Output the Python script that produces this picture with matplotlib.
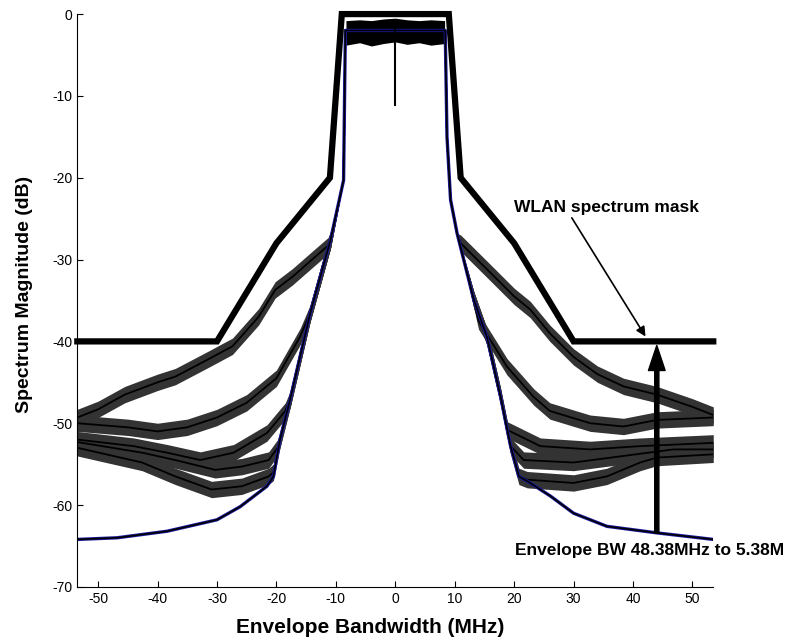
import matplotlib
matplotlib.use("Agg")
import numpy as np
import matplotlib.pyplot as plt

plt.rcParams["font.family"] = ["Liberation Sans", "DejaVu Sans"]
plt.rcParams["axes.unicode_minus"] = False

# WLAN spectrum mask (MHz, dB)
mask_x = [-53.5, -30, -20, -11, -9, 9, 11, 20, 30, 53.5]
mask_y = [-40, -40, -28, -20, 0, 0, -20, -28, -40, -40]

# in-band noise band
inband_x = [-8.3, -6, -4, -2, 0, 2, 4, 6, 8.3]
inband_top = [-0.8, -0.7, -0.8, -0.6, -0.5, -0.7, -0.8, -0.7, -0.8]
inband_bot = [-3.8, -3.5, -3.9, -3.6, -3.4, -3.7, -3.5, -3.8, -3.6]
dip_x = [-0.1, -0.1]
dip_y = [-1.0, -11.1]

# original spectrum (lowest trace)
base_x = [-53.5, -46.8, -38.4, -30, -26.1, -21.6, -20.5, -19.4, -17.7, -14.3,
          -10.9, -8.7, -8.4, 8.4, 8.7, 9.3, 10.4, 13.2, 15.4, 17.7, 19.4,
          20.8, 22.7, 26.1, 30, 35.6, 44, 53.5]
base_y = [-64.2, -64.0, -63.2, -61.8, -60.2, -57.7, -56.5, -52.0, -47.1, -36.5,
          -27.6, -20.3, -2.0, -2.0, -15.0, -22.7, -26.8, -34.9, -39.4, -46.7, -52.8,
          -56.5, -57.3, -58.9, -61.0, -62.6, -63.4, -64.2]

# envelope-tracking traces, widest bandwidth -> narrowest
envA_x = [-53.5, -50, -45.5, -40, -37, -31.5, -27.4, -23, -20.2, -17.3, -14, -11.3,
          -10.9, -8.7, -8.4, 8.4, 8.7, 9.3, 10.4, 11, 16, 20, 22.7, 26, 30, 34,
          38.4, 44, 50, 53.5]
envA_y = [-49.3, -48.3, -46.5, -45.0, -44.3, -42.2, -40.6, -37.0, -33.7, -32.1, -30.0, -28.3,
          -27.6, -20.3, -2.0, -2.0, -15.0, -22.7, -26.8, -28.0, -31.6, -34.5, -36.1, -39.0, -41.9, -44.0,
          -45.5, -46.5, -48.0, -49.0]

envB_x = [-53.5, -45, -40, -35, -30, -25, -20, -16, -14.3, -10.9, -8.7, -8.4,
          8.4, 8.7, 9.3, 10.4, 13.2, 14, 18.8, 23.3, 26, 32.8, 38.4, 44, 53.5]
envB_y = [-50.0, -50.5, -51.0, -50.5, -49.3, -47.5, -44.5, -39.4, -36.5, -27.6, -20.3, -2.0,
          -2.0, -15.0, -22.7, -26.8, -34.9, -37.5, -43.1, -46.8, -48.5, -50.0, -50.4, -49.6, -49.3]

envC_x = [-53.5, -44, -38.4, -32.8, -27.2, -21.6, -18.5, -17.7, -14.3, -10.9, -8.7, -8.4,
          8.4, 8.7, 9.3, 10.4, 13.2, 15.4, 17.7, 18.8, 24.4, 32.8, 41.2, 53.5]
envC_y = [-52.0, -52.8, -53.6, -54.5, -53.6, -51.2, -48.5, -47.1, -36.5, -27.6, -20.3, -2.0,
          -2.0, -15.0, -22.7, -26.8, -34.9, -39.4, -46.7, -50.8, -52.8, -53.2, -52.8, -52.4]

envD_x = [-53.5, -42.6, -37, -30.3, -25.8, -21.3, -19.8, -19.4, -17.7, -14.3, -10.9, -8.7, -8.4,
          8.4, 8.7, 9.3, 10.4, 13.2, 15.4, 17.7, 19.4, 21.6, 30, 38.4, 46.8, 53.5]
envD_y = [-52.3, -53.6, -54.5, -55.7, -55.3, -54.5, -53.0, -52.0, -47.1, -36.5, -27.6, -20.3, -2.0,
          -2.0, -15.0, -22.7, -26.8, -34.9, -39.4, -46.7, -52.8, -54.5, -54.8, -54.0, -53.2, -53.2]

envE_x = [-53.5, -42.6, -37, -30.9, -25.8, -21.3, -20.5, -19.4, -17.7, -14.3, -10.9, -8.7, -8.4,
          8.4, 8.7, 9.3, 10.4, 13.2, 15.4, 17.7, 19.4, 20.8, 22.2, 30, 35.6, 41.2, 44, 53.5]
envE_y = [-53.0, -54.8, -56.5, -58.1, -57.7, -56.5, -56.0, -52.0, -47.1, -36.5, -27.6, -20.3, -2.0,
          -2.0, -15.0, -22.7, -26.8, -34.9, -39.4, -46.7, -52.8, -56.5, -56.9, -57.3, -56.5, -54.8, -54.2, -53.8]

envelopes = [(envA_x, envA_y), (envB_x, envB_y), (envC_x, envC_y),
             (envD_x, envD_y), (envE_x, envE_y)]

NOISE_HALF = 1.0  # visual half-width of the noise band (dB)

fig = plt.figure(figsize=(7.89, 6.4), dpi=100)
ax = fig.add_axes([0.098, 0.083, 0.806, 0.895])

for ex, ey in envelopes:
    ey = np.array(ey)
    # band only outside the shared skirt/in-band part
    outer = np.abs(np.array(ex)) > 10.5
    lo = np.where(outer, ey - NOISE_HALF, ey)
    hi = np.where(outer, ey + NOISE_HALF, ey)
    ax.fill_between(ex, lo, hi, color="#333333", lw=0)
    ax.plot(ex, ey, color="black", lw=1.3)

ax.plot(base_x, base_y, color="#1a1aa0", lw=2.4)
ax.plot(base_x, base_y, color="black", lw=1.2)

ax.fill_between(inband_x, inband_bot, inband_top, color="black", lw=0)
ax.plot(dip_x, dip_y, color="black", lw=1.5)

ax.plot(mask_x, mask_y, color="black", lw=4.5, solid_joinstyle="miter", clip_on=False)

ax.text(20, -23.6, "WLAN spectrum mask", fontsize=12.5, fontweight="bold",
        va="center", ha="left")
ax.annotate("", xy=(42.1, -39.4), xytext=(29.7, -24.9),
            arrowprops=dict(arrowstyle="-|>", color="black", lw=1.2,
                            mutation_scale=14, shrinkA=0, shrinkB=0))

ax.annotate("", xy=(44, -40.5), xytext=(44, -63.4),
            arrowprops=dict(facecolor="black", edgecolor="black", width=3,
                            headwidth=12, headlength=18, shrink=0))
ax.text(20.2, -65.6, "Envelope BW 48.38MHz to 5.38M", fontsize=12.5,
        fontweight="bold", va="center", ha="left", clip_on=False)

ax.set_xlim(-53.5, 53.5)
ax.set_ylim(-70, 0)
ax.set_xticks(range(-50, 51, 10))
ax.set_yticks(range(-70, 1, 10))
ax.tick_params(direction="in", length=4, labelsize=10)
ax.spines["top"].set_visible(False)
ax.spines["right"].set_visible(False)
ax.set_xlabel("Envelope Bandwidth (MHz)", fontsize=15, fontweight="bold")
ax.set_ylabel("Spectrum Magnitude (dB)", fontsize=14, fontweight="bold")
ax.xaxis.set_label_coords(0.46, -0.055)
ax.yaxis.set_label_coords(-0.07, 0.51)

fig.savefig("out.png", dpi=100)
